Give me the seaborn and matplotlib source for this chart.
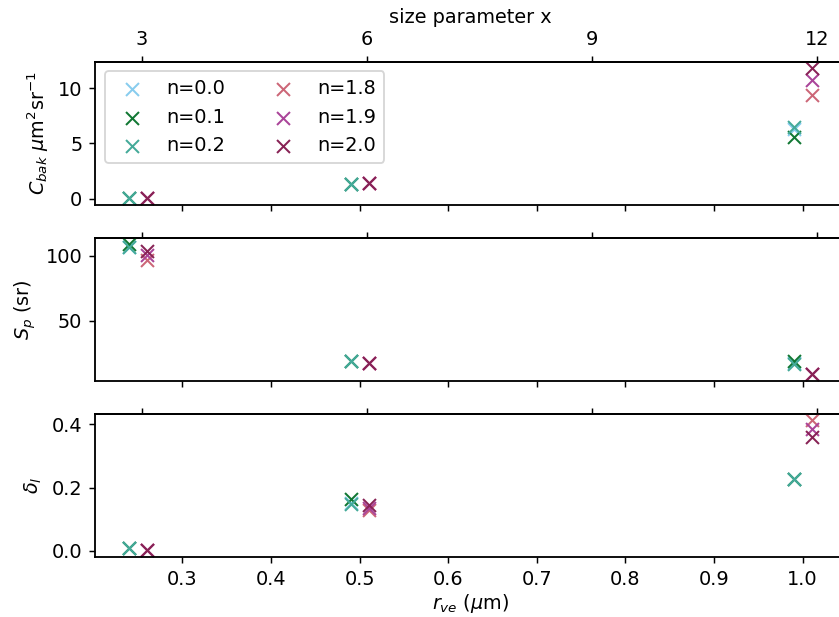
import numpy as np
import pandas as pd
import matplotlib
matplotlib.use("Agg")
import matplotlib.pyplot as plt
import seaborn as sns

# ---- data ----
r_low = [0.24, 0.49, 0.99]     # n = 0.0 .. 0.2
r_high = [0.26, 0.51, 1.01]    # n = 1.8 .. 2.0
labels = ["n=0.0", "n=0.1", "n=0.2", "n=1.8", "n=1.9", "n=2.0"]
colors = ["#88CCEE", "#117733", "#44AA99", "#CC6677", "#AA4499", "#882255"]

cbak_00 = [0.05, 1.30, 6.3]
cbak_01 = [0.05, 1.30, 5.6]
cbak_02 = [0.05, 1.32, 6.45]
cbak_18 = [0.05, 1.40, 9.4]
cbak_19 = [0.05, 1.42, 10.7]
cbak_20 = [0.05, 1.45, 11.8]

sp_00 = [107.0, 19.5, 17.5]
sp_01 = [109.0, 19.5, 18.9]
sp_02 = [106.5, 19.4, 16.5]
sp_18 = [97.0, 17.5, 9.5]
sp_19 = [101.0, 17.8, 9.0]
sp_20 = [104.0, 17.9, 9.3]

dl_00 = [0.008, 0.150, 0.228]
dl_01 = [0.008, 0.165, 0.228]
dl_02 = [0.008, 0.147, 0.228]
dl_18 = [0.002, 0.128, 0.413]
dl_19 = [0.002, 0.137, 0.384]
dl_20 = [0.002, 0.146, 0.359]

wavelength = 0.532
top_ticks = [3, 6, 9, 12]

cbak = [cbak_00, cbak_01, cbak_02, cbak_18, cbak_19, cbak_20]
sp = [sp_00, sp_01, sp_02, sp_18, sp_19, sp_20]
dl = [dl_00, dl_01, dl_02, dl_18, dl_19, dl_20]
rs = [r_low, r_low, r_low, r_high, r_high, r_high]

rows = []
for lab, r, c, s, d in zip(labels, rs, cbak, sp, dl):
    for i in range(3):
        rows.append(dict(n=lab, r=r[i], cbak=c[i], sp=s[i], dl=d[i]))
df = pd.DataFrame(rows)

plt.rcParams["font.size"] = 10.5
plt.rcParams["axes.linewidth"] = 1.0

DPI = 132
fig, axes = plt.subplots(3, 1, figsize=(839 / DPI, 617 / DPI), dpi=DPI, sharex=True)
fig.subplots_adjust(left=0.1135, right=1.0079, top=0.9, bottom=0.0977, hspace=0.231)

def r2x(r):
    return 2 * np.pi * np.asarray(r) / wavelength

def x2r(x):
    return np.asarray(x) * wavelength / (2 * np.pi)

ycols = ["cbak", "sp", "dl"]
for ax, col in zip(axes, ycols):
    for lab, colr in zip(labels, colors):
        sub = df[df["n"] == lab]
        sns.scatterplot(data=sub, x="r", y=col, color=colr, marker="x",
                        s=50, linewidth=1.1, label=lab, ax=ax, legend=False)
    sec = ax.secondary_xaxis("top", functions=(r2x, x2r))
    sec.set_xticks(top_ticks)
    if ax is axes[0]:
        sec.set_xticklabels([str(t) for t in top_ticks])
        sec.set_xlabel("size parameter x")
    else:
        sec.set_xticklabels([])
    ax.set_xlabel("")

axes[0].set_ylabel(r"$C_{bak}$ $\mu$m$^2$sr$^{-1}$")
axes[1].set_ylabel(r"$S_p$ (sr)")
axes[2].set_ylabel(r"$\delta_l$")
axes[2].set_xlabel(r"$r_{ve}$ ($\mu$m)", labelpad=2)

axes[0].set_yticks([0, 5, 10])
axes[1].set_yticks([50, 100])
axes[2].set_yticks([0.0, 0.2, 0.4])
axes[2].set_xticks([0.3, 0.4, 0.5, 0.6, 0.7, 0.8, 0.9, 1.0])

axes[0].legend(ncol=2, loc="upper left")

fig.savefig("out.png", dpi=DPI)
